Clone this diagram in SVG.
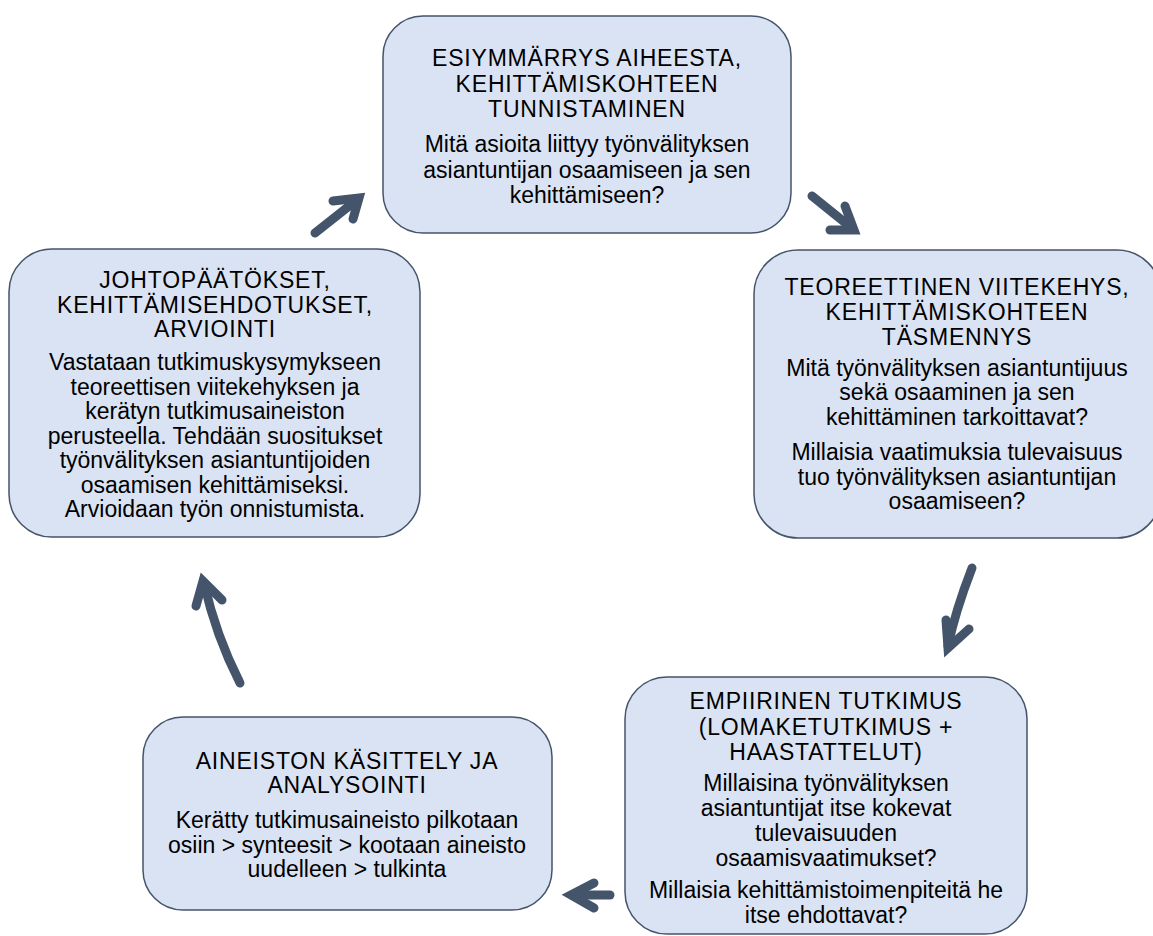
<svg xmlns="http://www.w3.org/2000/svg" width="1153" height="936" viewBox="0 0 1153 936">
<style>
.box{fill:#dae3f3;stroke:#44546a;stroke-width:1.5}
.t{font-family:"Liberation Sans",Arial,sans-serif;font-size:23px;fill:#000;text-anchor:middle}
.h{letter-spacing:0.8px}
.arr{fill:none;stroke:#44546a;stroke-width:9;stroke-linecap:round;stroke-linejoin:miter;stroke-miterlimit:10}
</style>
<rect width="1153" height="936" fill="#fff"/>
<g id="connectors">
<path class="arr" d="M315,233 L358,199"/>
<polyline class="arr" points="333,201 359,198 353,219"/>
<path class="arr" d="M812,196 L853,229"/>
<polyline class="arr" points="845,206 854,230 830,230"/>
<path class="arr" d="M972,568 Q955,612 948,646"/>
<polyline class="arr" points="946,620 948,648 969,629"/>
<path class="arr" d="M610,895 L573,895"/>
<polyline class="arr" points="594,883 571,895 594,908"/>
<path class="arr" d="M240,683 Q216,636 204,583"/>
<polyline class="arr" points="196,606 203,581 222,600"/>
</g>
<g id="node-esiymmarrys">
<rect class="box" x="383" y="16" width="408" height="217" rx="40"/>
<text class="t h" x="587" y="66">ESIYMMÄRRYS AIHEESTA,</text>
<text class="t h" x="587" y="92">KEHITTÄMISKOHTEEN</text>
<text class="t h" x="587" y="117">TUNNISTAMINEN</text>
<text class="t" x="587" y="152">Mitä asioita liittyy työnvälityksen</text>
<text class="t" x="587" y="178">asiantuntijan osaamiseen ja sen</text>
<text class="t" x="587" y="203">kehittämiseen?</text>
</g>
<g id="node-teoreettinen">
<rect class="box" x="754" y="250" width="407" height="288" rx="44"/>
<text class="t h" x="957" y="295">TEOREETTINEN VIITEKEHYS,</text>
<text class="t h" x="957" y="320">KEHITTÄMISKOHTEEN</text>
<text class="t h" x="957" y="345">TÄSMENNYS</text>
<text class="t" x="957" y="376">Mitä työnvälityksen asiantuntijuus</text>
<text class="t" x="957" y="400">sekä osaaminen ja sen</text>
<text class="t" x="957" y="425">kehittäminen tarkoittavat?</text>
<text class="t" x="957" y="460">Millaisia vaatimuksia tulevaisuus</text>
<text class="t" x="957" y="485">tuo työnvälityksen asiantuntijan</text>
<text class="t" x="957" y="509">osaamiseen?</text>
</g>
<g id="node-empiirinen">
<rect class="box" x="625" y="677" width="402" height="257" rx="42"/>
<text class="t h" x="826" y="709">EMPIIRINEN TUTKIMUS</text>
<text class="t h" x="826" y="735">(LOMAKETUTKIMUS +</text>
<text class="t h" x="826" y="760">HAASTATTELUT)</text>
<text class="t" x="826" y="791">Millaisina työnvälityksen</text>
<text class="t" x="826" y="816">asiantuntijat itse kokevat</text>
<text class="t" x="826" y="841">tulevaisuuden</text>
<text class="t" x="826" y="866">osaamisvaatimukset?</text>
<text class="t" x="826" y="898">Millaisia kehittämistoimenpiteitä he</text>
<text class="t" x="826" y="923">itse ehdottavat?</text>
</g>
<g id="node-aineiston">
<rect class="box" x="143" y="717" width="409" height="193" rx="40"/>
<text class="t h" x="347" y="769">AINEISTON KÄSITTELY JA</text>
<text class="t h" x="347" y="793">ANALYSOINTI</text>
<text class="t" x="347" y="828">Kerätty tutkimusaineisto pilkotaan</text>
<text class="t" x="347" y="853">osiin &gt; synteesit &gt; kootaan aineisto</text>
<text class="t" x="347" y="877">uudelleen &gt; tulkinta</text>
</g>
<g id="node-johtopaatokset">
<rect class="box" x="9" y="249" width="411" height="288" rx="43"/>
<text class="t h" x="215" y="288">JOHTOPÄÄTÖKSET,</text>
<text class="t h" x="215" y="313">KEHITTÄMISEHDOTUKSET,</text>
<text class="t h" x="215" y="337">ARVIOINTI</text>
<text class="t" x="215" y="370">Vastataan tutkimuskysymykseen</text>
<text class="t" x="215" y="395">teoreettisen viitekehyksen ja</text>
<text class="t" x="215" y="419">kerätyn tutkimusaineiston</text>
<text class="t" x="215" y="444">perusteella. Tehdään suositukset</text>
<text class="t" x="215" y="468">työnvälityksen asiantuntijoiden</text>
<text class="t" x="215" y="493">osaamisen kehittämiseksi.</text>
<text class="t" x="215" y="517">Arvioidaan työn onnistumista.</text>
</g>
</svg>
